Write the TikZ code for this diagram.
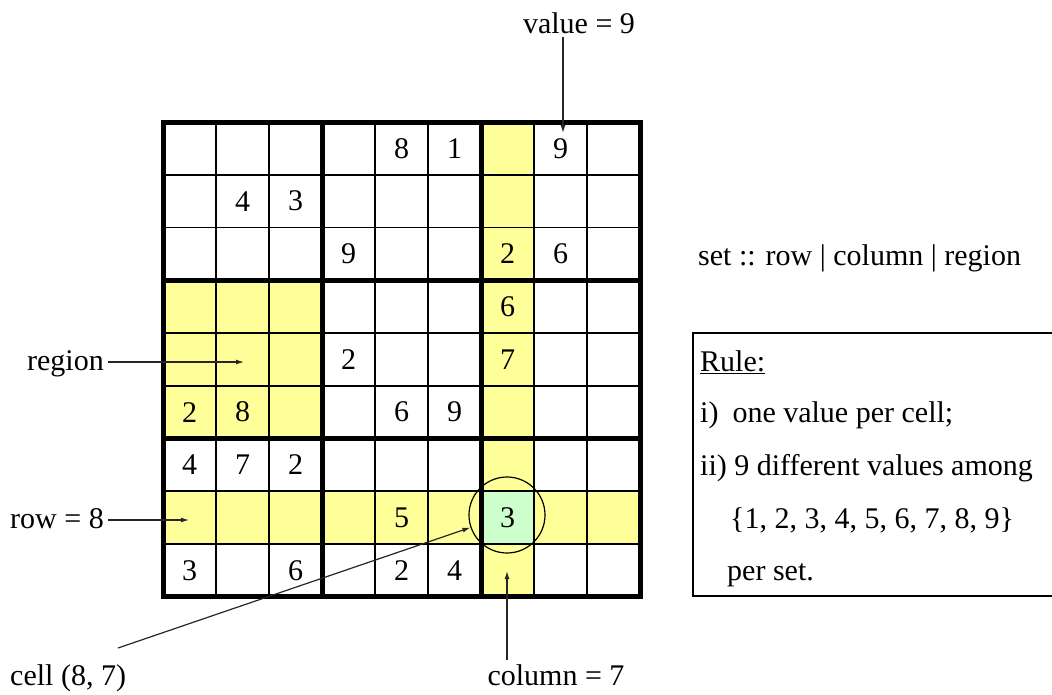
\documentclass[tikz,border=0pt]{standalone}
\usepackage{fontspec}
\setmainfont{Liberation Serif}
\usetikzlibrary{arrows.meta}
\definecolor{setyellow}{HTML}{FFFF99}
\definecolor{cellgreen}{HTML}{CCFFCC}

\begin{document}
\begin{tikzpicture}[x=1pt,y=-1pt]
    \tikzstyle{caption_text} = [font=\fontsize{30}{36}\selectfont, inner sep=4pt]
    \tikzstyle{rule_text} = [font=\fontsize{30}{36}\selectfont, inner sep=0pt, anchor=base west]
    \tikzstyle{given} = [font=\fontsize{30}{36}\selectfont, inner sep=0pt]
    \tikzstyle{thin_line} = [line width=1.8pt]
    \tikzstyle{thick_line} = [line width=5pt, line cap=rect]
    \tikzstyle{pointer} = [line width=1.2pt, black!85, -{Latex[length=8pt,width=5pt]}]

    \useasboundingbox (0,0) rectangle (1052,694);

    % the grid
    \begin{scope}[shift={(163,122)}, x=53pt, y=-52.75pt]
      \fill[setyellow] (6,0) rectangle (7,9);
      \fill[setyellow] (0,7) rectangle (9,8);
      \fill[setyellow] (0,3) rectangle (3,6);
      \fill[cellgreen] (6,7) rectangle (7,8);
      \foreach \i in {1,2,4,5,7,8} {
        \draw[thin_line] (\i,0) -- (\i,9);
        \draw[thin_line] (0,\i) -- (9,\i);
      }
      \foreach \i in {0,3,6,9} {
        \draw[thick_line] (\i,0) -- (\i,9);
        \draw[thick_line] (0,\i) -- (9,\i);
      }

      \draw
        (4.5,0.5) node[given] (d15){8}
        (5.5,0.5) node[given] (d16){1}
        (7.5,0.5) node[given] (d18){9}
        (1.5,1.5) node[given] (d22){4}
        (2.5,1.5) node[given] (d23){3}
        (3.5,2.5) node[given] (d34){9}
        (6.5,2.5) node[given] (d37){2}
        (7.5,2.5) node[given] (d38){6}
        (6.5,3.5) node[given] (d47){6}
        (3.5,4.5) node[given] (d54){2}
        (6.5,4.5) node[given] (d57){7}
        (0.5,5.5) node[given] (d61){2}
        (1.5,5.5) node[given] (d62){8}
        (4.5,5.5) node[given] (d65){6}
        (5.5,5.5) node[given] (d66){9}
        (0.5,6.5) node[given] (d71){4}
        (1.5,6.5) node[given] (d72){7}
        (2.5,6.5) node[given] (d73){2}
        (4.5,7.5) node[given] (d85){5}
        (6.5,7.5) node[given] (d87){3}
        (0.5,8.5) node[given] (d91){3}
        (2.5,8.5) node[given] (d93){6}
        (4.5,8.5) node[given] (d95){2}
        (5.5,8.5) node[given] (d96){4};
    \end{scope}

    \node[draw, circle, line width=1.2pt, minimum size=76pt, inner sep=0pt] (focus) at (507,515) {};

    % labels round the grid
    \draw
      (579,33) node[caption_text, anchor=base] (value){value = 9}
      (108,370) node[caption_text, anchor=base east] (region){region}
      (108,528) node[caption_text, anchor=base east] (row){row = 8}
      (6,685) node[caption_text, anchor=base west] (cell){cell (8, 7)}
      (556,685) node[caption_text, anchor=base] (column){column = 7};

    \coordinate (value_end) at (563,133);
    \coordinate (region_end) at (244,362);
    \coordinate (row_end) at (189,520);
    \coordinate (cell_from) at (118,648);
    \coordinate (column_end) at (507,571);

    \draw[pointer] (value.south -| value_end) -- (value_end);
    \draw[pointer] (region.east |- region_end) -- (region_end);
    \draw[pointer] (row.east |- row_end) -- (row_end);
    \draw[pointer] (cell_from) -- (focus);
    \draw[pointer] (column.north -| column_end) -- (column_end);

    % set and rule
    \node[rule_text] (sets) at (698,265) {set :: row | column | region};
    \draw[line width=1.5pt] (1052,333) -- (693,333) -- (693,596) -- (1052,596);
    \node[rule_text] (rule_head) at (700,371) {\underline{Rule:}};
    \node[rule_text] (rule_one) at (700,422) {i)\hspace{14pt}one value per cell;};
    \node[rule_text] (rule_two) at (700,475) {ii) 9 different values among};
    \node[rule_text] (rule_set) at (730,528) {\{1, 2, 3, 4, 5, 6, 7, 8, 9\}};
    \node[rule_text] (rule_end) at (727,580) {per set.};
\end{tikzpicture}
\end{document}
